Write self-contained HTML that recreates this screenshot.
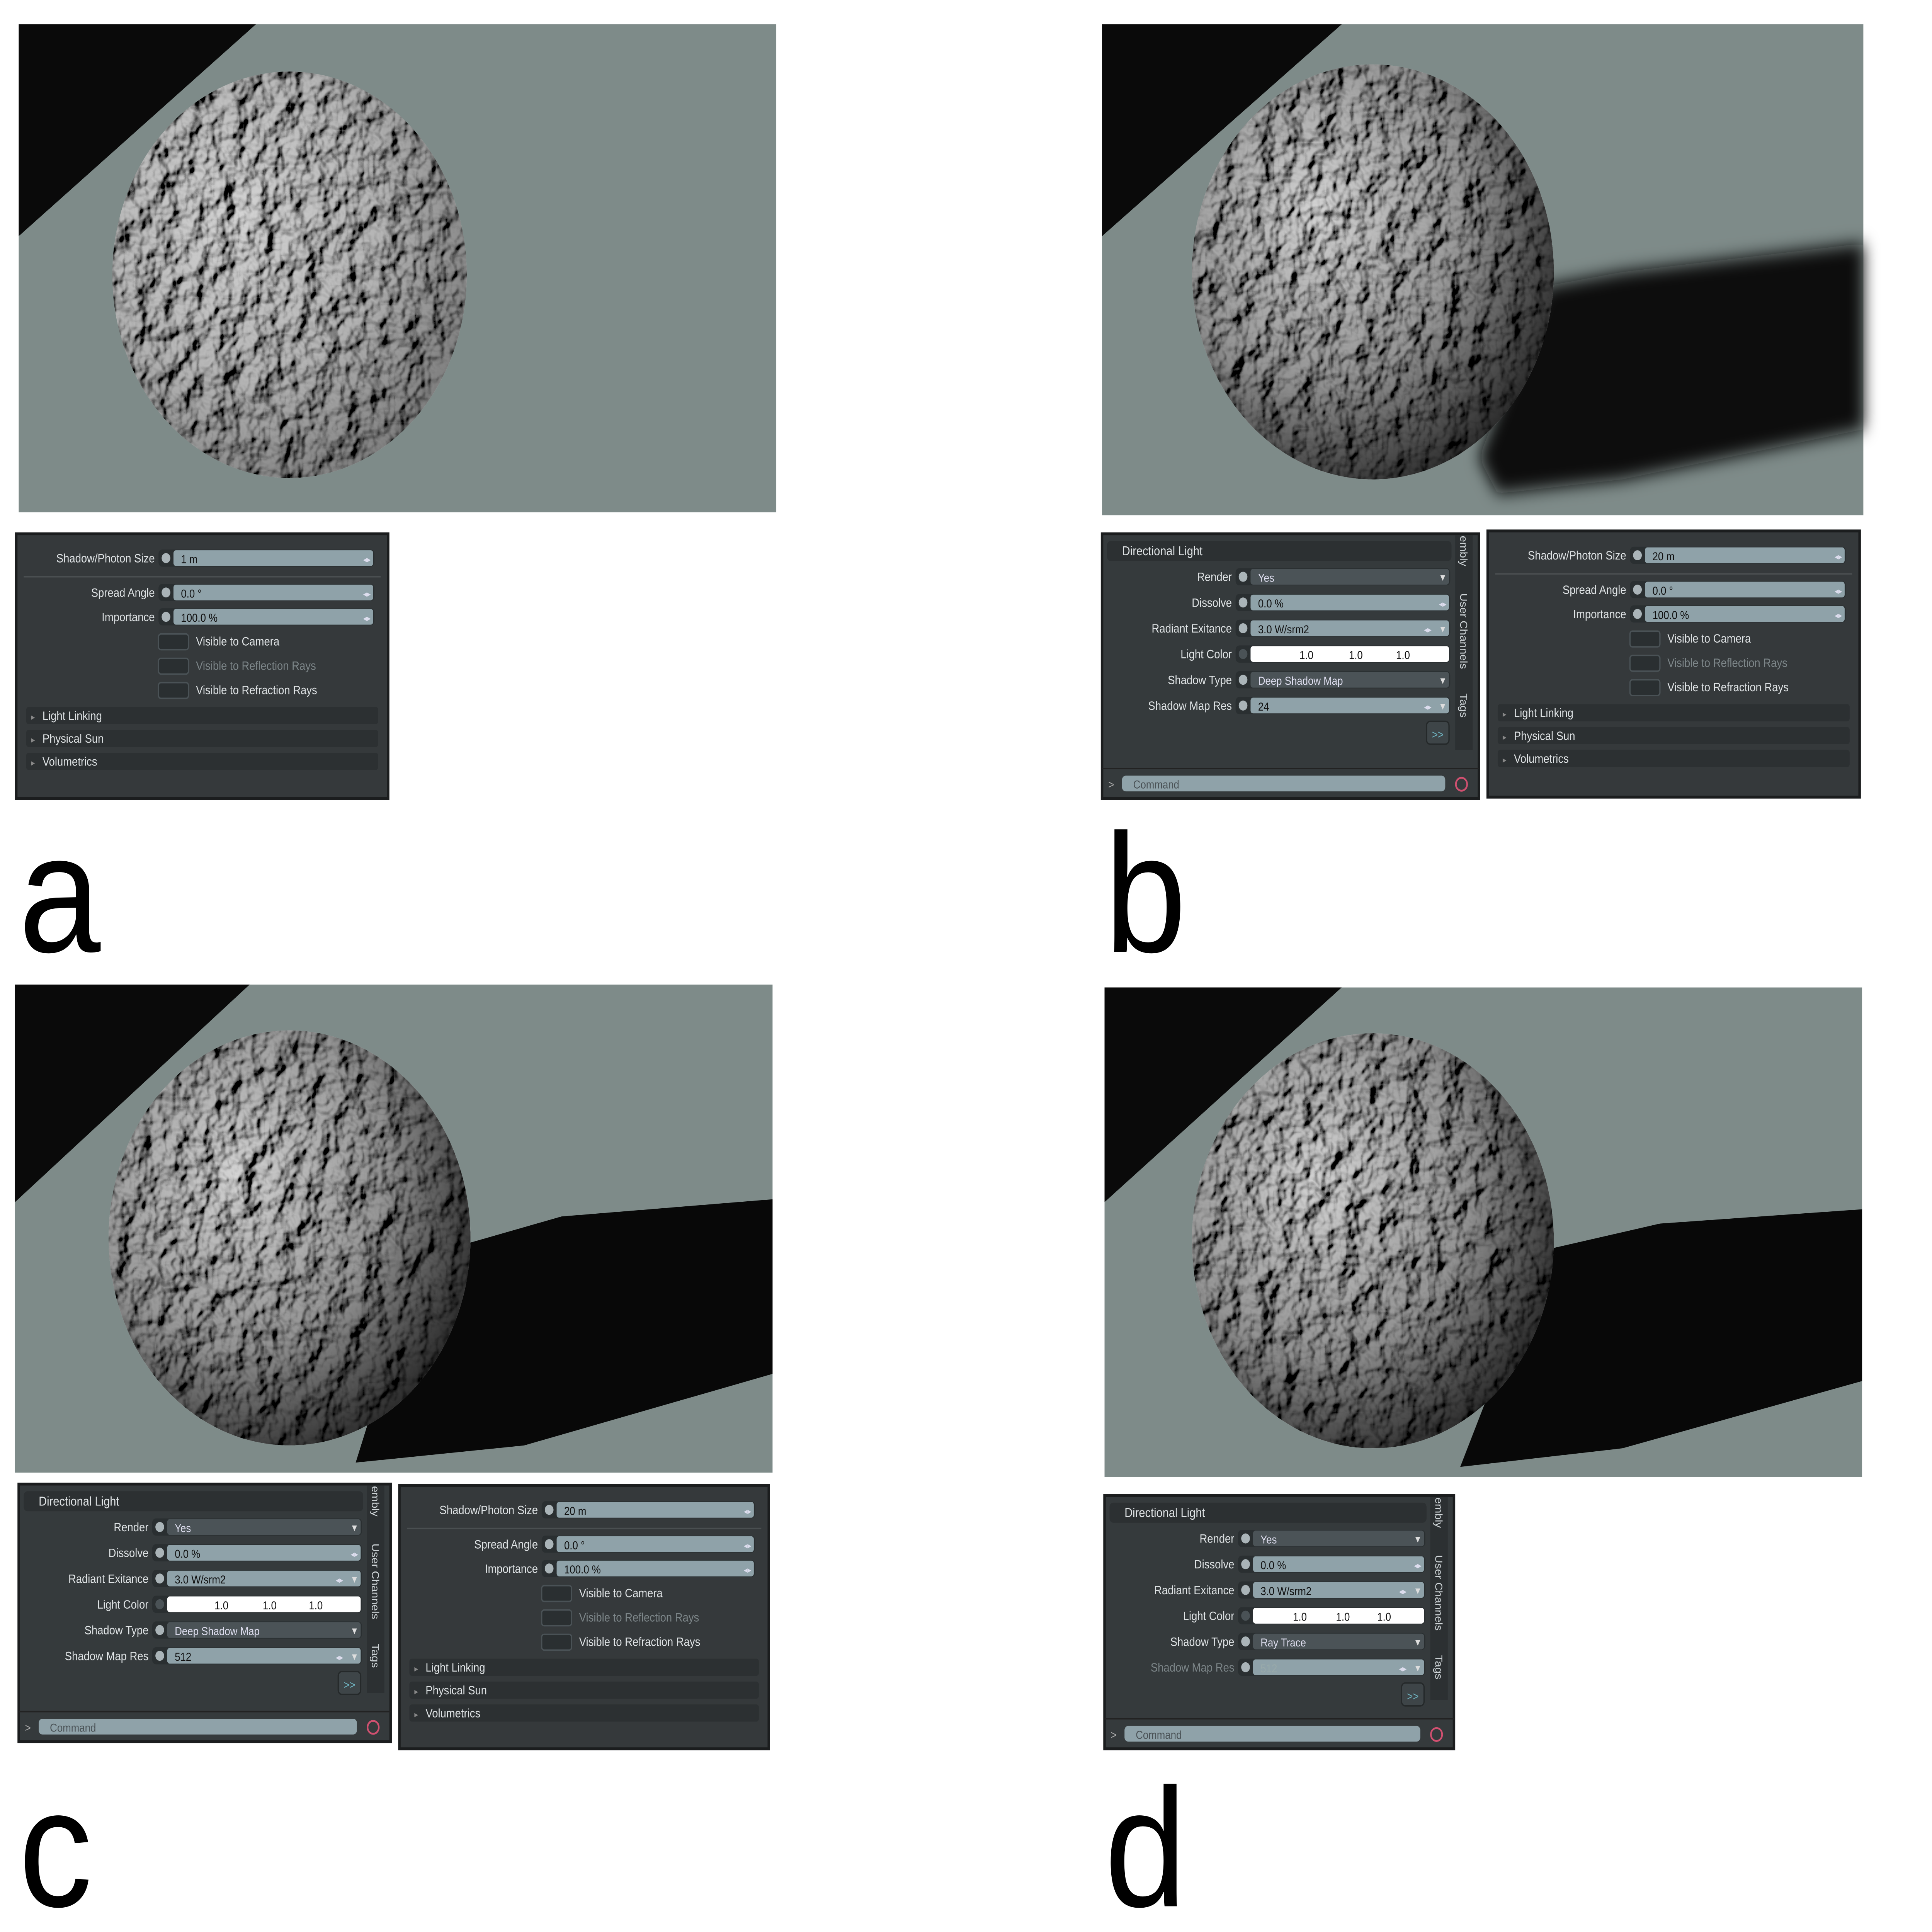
<!DOCTYPE html>
<html><head><meta charset="utf-8"><style>
html,body{margin:0;padding:0;background:#fff;width:100vw;height:100vh;overflow:hidden}
#root{width:100vw;height:100vh;overflow:hidden;position:relative}
#svg{position:absolute;left:0;top:0;display:block;width:100vw;height:100vh}
svg text{font-family:"Liberation Sans",sans-serif}
</style></head><body>
<div id="root">
<svg id="svg" viewBox="0 0 1548 1350" preserveAspectRatio="none" xmlns="http://www.w3.org/2000/svg">
<defs>
<filter id="bump" x="0" y="0" width="100%" height="100%">
<feTurbulence type="fractalNoise" baseFrequency="0.06" numOctaves="3" seed="4" result="n"/>
<feDiffuseLighting in="n" surfaceScale="9" lighting-color="#d4d4d4" result="l"><feDistantLight azimuth="210" elevation="45"/></feDiffuseLighting>
<feColorMatrix in="l" type="saturate" values="0"/>
</filter>
<radialGradient id="shade" cx="0.35" cy="0.35" r="0.75">
<stop offset="0" stop-color="#000" stop-opacity="0"/>
<stop offset="0.55" stop-color="#000" stop-opacity="0.3"/>
<stop offset="1" stop-color="#000" stop-opacity="0.85"/>
</radialGradient>
<filter id="blur"><feGaussianBlur stdDeviation="6"/></filter>
</defs>
<g id="layer"></g>
</svg>
</div>
<script>
const NS="http://www.w3.org/2000/svg";
const layer=document.getElementById('layer');
function el(tag,attrs,parent){const e=document.createElementNS(NS,tag);for(const k in attrs)e.setAttribute(k,attrs[k]);(parent||layer).appendChild(e);return e;}
function txt(x,y,s,size,fill,anchor,parent){const t=el('text',{x:x,y:y,'font-size':size,fill:fill,'text-anchor':anchor||'start'},parent);t.textContent=s;return t;}

const views=[
 {id:'a',x:15,y:17,w:607,h:341,tri:[190,148],cx:232,cy:192,r:142,shadow:null},
 {id:'b',x:883,y:17,w:610,h:343,tri:[192,148],cx:1100,cy:190,r:145,shadow:'1238,200 1300,190 1493,170 1493,300 1300,335 1200,345 1185,320',blur:true},
 {id:'c',x:12,y:688,w:607,h:341,tri:[188,152],cx:232,cy:865,r:145,shadow:'330,880 450,850 619,838 619,960 420,1010 285,1022 300,980'},
 {id:'d',x:885,y:690,w:607,h:342,tri:[190,150],cx:1100,cy:867,r:145,shadow:'1205,880 1330,855 1492,845 1492,965 1300,1012 1170,1025 1190,980'}
];
views.forEach(v=>{
 const g=el('g',{});
 
 
 const bg=el('rect',{x:v.x,y:v.y,width:v.w,height:v.h,fill:'#7e8b89'},g);
 
 
 const tr=el('polygon',{points:`${v.x},${v.y} ${v.x+v.tri[0]},${v.y} ${v.x},${v.y+v.tri[1]}`,fill:'#0a0a0a'},g);
 
 
 if(v.shadow){
  const sh=el('polygon',{points:v.shadow,fill:'#080808'},g);
  if(v.blur) sh.setAttribute('filter','url(#blur)');
  
  
 }
 const cp=el('clipPath',{id:'cp'+v.id},g);
 el('circle',{cx:v.cx,cy:v.cy,r:v.r},cp);
 const sg=el('g',{'clip-path':`url(#cp${v.id})`},g);
 
 
 el('rect',{x:v.cx-v.r,y:v.cy-v.r,width:2*v.r,height:2*v.r,fill:'#999',filter:'url(#bump)'},sg);
 el('circle',{cx:v.cx,cy:v.cy,r:v.r,fill:'url(#shade)',opacity:v.id==='a'?0.5:1},sg);
});

function field(g,x,y,w,val,opts){
 opts=opts||{};
 el('rect',{x:x,y:y-6,width:w,height:12,rx:3,fill:'#2a2f31'},g);
 el('circle',{cx:x+6,cy:y,r:3.5,fill:opts.dimDot?'#4a5256':'#aab4b8'},g);
 const fc=opts.white?'#ffffff':(opts.dark?'#4b5357':'#8fa2a9');
 const f=el('rect',{x:x+12,y:y-5.5,width:w-13,height:11,rx:2,fill:fc},g);
 
 
 if(opts.white){
  [0.33,0.56,0.78].forEach(p=>txt(x+w*p,y+3.5,'1.0',8,'#111','middle',g));
 } else {
  txt(x+18,y+3.5,val,8,opts.dark?'#dde':(opts.dim?'#9aa':'#111'),'start',g);
 }
 if(opts.drop) txt(x+w-6,y+3,'▾',8,'#ddd','middle',g);
 if(opts.spin) txt(x+w-(opts.drop?18:6),y+3,'◂▸',6,'#dde','middle',g);
}
function shadowPanel(id,X,Y,W,H,size){
 const g=el('g',{});
 
 
 el('rect',{x:X,y:Y,width:W,height:H,fill:'#35393b',stroke:'#1b1d1e','stroke-width':2},g);
 const lx=X+111, fx=X+114, fw=W-125;
 txt(lx,Y+20,'Shadow/Photon Size',8.5,'#dfe3e5','end',g);
 field(g,fx,Y+17,fw,size,{spin:true,name:'shadow-size'});
 el('line',{x1:X+6,y1:Y+30,x2:X+W-6,y2:Y+30,stroke:'#4a4f51'},g);
 txt(lx,Y+44,'Spread Angle',8.5,'#dfe3e5','end',g);
 field(g,fx,Y+41,fw,'0.0 °',{spin:true,name:'spread-angle'});
 txt(lx,Y+61,'Importance',8.5,'#dfe3e5','end',g);
 field(g,fx,Y+58,fw,'100.0 %',{spin:true,name:'importance'});
 [['Visible to Camera',0],['Visible to Reflection Rays',1],['Visible to Refraction Rays',0]].forEach((c,i)=>{
  const yy=Y+75+i*17;
  const b=el('rect',{x:fx,y:yy-5,width:24,height:11,rx:2,fill:'#2a2f31',stroke:'#4a5256'},g);
  
  
  txt(fx+30,yy+3,c[0],8.5,c[1]?'#7d8689':'#dfe3e5','start',g);
 });
 ['Light Linking','Physical Sun','Volumetrics'].forEach((s,i)=>{
  const yy=Y+127+i*16;
  const r=el('rect',{x:X+8,y:yy-6,width:W-16,height:12,rx:2,fill:'#2c3032'},g);
  
  
  txt(X+12,yy+3,'▸',6,'#888','start',g);
  txt(X+21,yy+3,s,8.5,'#dfe3e5','start',g);
 });
}
function lightPanel(id,X,Y,W,H,type,res,resDim){
 const g=el('g',{});
 
 
 el('rect',{x:X,y:Y,width:W,height:H,fill:'#353a3c',stroke:'#1b1d1e','stroke-width':2},g);
 el('rect',{x:X+4,y:Y+5,width:W-26,height:14,rx:3,fill:'#2c3032'},g);
 txt(X+16,Y+15,'Directional Light',9,'#dfe3e5','start',g);
 const lx=X+104, fx=X+107, fw=W-130;
 const rows=[['Render','Yes',{drop:true,dark:true,name:'render'}],
  ['Dissolve','0.0 %',{spin:true,name:'dissolve'}],
  ['Radiant Exitance','3.0 W/srm2',{spin:true,drop:true,name:'radiant-exitance'}],
  ['Light Color','',{white:true,dimDot:true,name:'light-color'}],
  ['Shadow Type',type,{drop:true,dark:true,name:'shadow-type'}],
  ['Shadow Map Res',res,{spin:true,drop:true,dim:resDim,name:'shadow-map-res'}]];
 rows.forEach((r,i)=>{
  const yy=Y+30+i*18;
  txt(lx,yy+3,r[0],8.5,(resDim&&i===5)?'#7d8689':'#dfe3e5','end',g);
  field(g,fx,yy,fw,r[1],r[2]);
 });
 const b=el('rect',{x:X+W-42,y:Y+131,width:18,height:16,rx:3,fill:'#3e4548',stroke:'#25292a'},g);
 
 
 txt(X+W-33,Y+143,'>>',8,'#6fb3c0','middle',g);
 el('rect',{x:X+W-19,y:Y+1,width:14,height:H-35,fill:'#2c3032'},g);
 [['embly',Y+12],['User Channels',Y+68],['Tags',Y+120]].forEach(t=>{
  const tt=txt(0,0,t[0],8,'#cfd5d8','middle',g);
  tt.setAttribute('transform',`translate(${X+W-15},${t[1]}) rotate(90)`);
  
  
 });
 el('line',{x1:X,y1:Y+H-21,x2:X+W,y2:Y+H-21,stroke:'#222'},g);
 txt(X+5,Y+H-7,'>',8,'#aaa','start',g);
 const c=el('rect',{x:X+16,y:Y+H-16,width:W-43,height:11,rx:3,fill:'#8fa2a9'},g);
 
 
 txt(X+25,Y+H-7,'Command',8,'#4a5256','start',g);
 el('circle',{cx:X+W-14,cy:Y+H-10,r:4.5,fill:'none',stroke:'#d05070','stroke-width':1.3},g);
}
shadowPanel('a',13,373,298,185,'1 m');
lightPanel('b',883,373,302,185,'Deep Shadow Map','24',false);
shadowPanel('b',1192,371,298,186,'20 m');
lightPanel('c',15,1037,298,180,'Deep Shadow Map','512',false);
shadowPanel('c',320,1038,296,184,'20 m');
lightPanel('d',885,1045,280,177,'Ray Trace','512',true);

[['a',15,665],['b',885,665],['c',15,1332],['d',885,1332]].forEach(l=>{
 const t=txt(l[1],l[2],l[0],118,'#000','start');
 
 
});
</script>
</body></html>
